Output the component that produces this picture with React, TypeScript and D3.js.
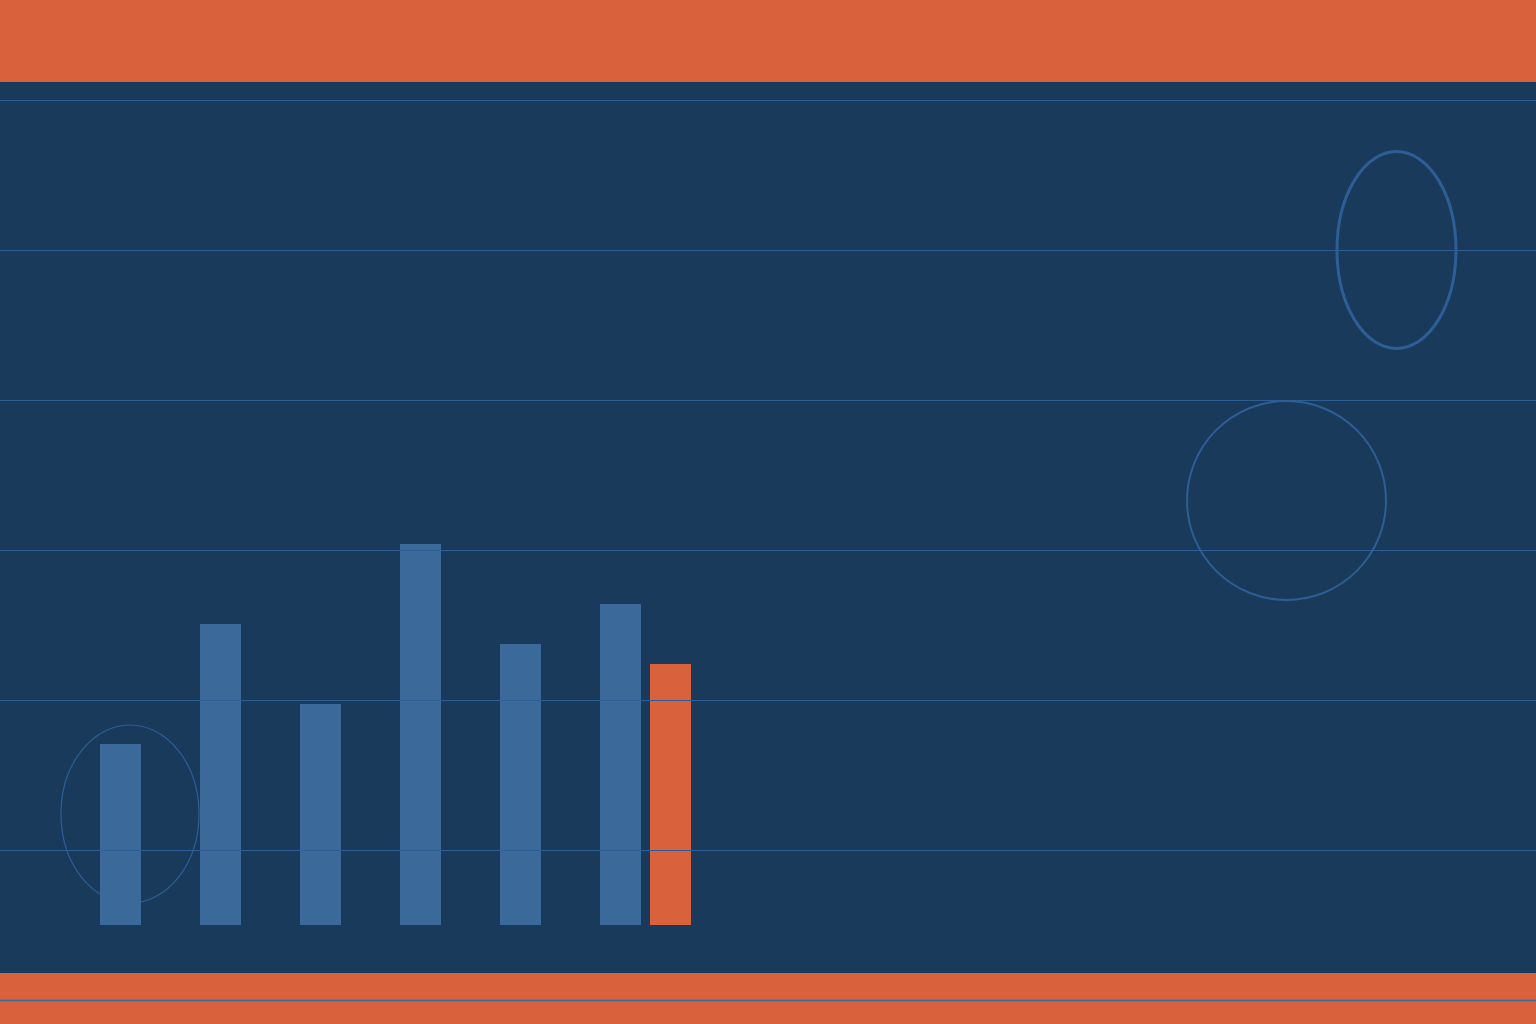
import * as d3 from 'd3';
import * as React from 'react';

const W = 1536;
const H = 1024;

// bar heights (chart units), blue series then the highlighted one
const categories = ['A', 'B', 'C', 'D', 'E', 'F'];
const blueValues = [181, 301, 221, 381, 281, 321];
const highlightValue = 261;
const gridValues = [75, 225, 375, 525, 675, 825];

const BG = '#1A3A5C';
const ORANGE = '#D9623D';
const BAR = '#3B6A9A';
const GRID = '#2D5E95';

export default function App() {
  const y = d3.scaleLinear().domain([0, 925]).range([925, 0]);
  const x = d3.scaleLinear().domain([0, categories.length]).range([100, 700]);
  const barW = 41;

  return (
    <svg
      width={W}
      height={H}
      viewBox={`0 0 ${W} ${H}`}
      style={{ position: 'fixed', top: 0, left: 0, display: 'block' }}
    >
      <rect x={0} y={0} width={W} height={H} fill={BG} />
      <rect x={0} y={0} width={W} height={82} fill={ORANGE} />
      <rect x={0} y={973} width={W} height={H - 973} fill={ORANGE} />
      <line x1={0} x2={W} y1={1000.5} y2={1000.5} stroke={BAR} strokeWidth={1.5} />

      {/* decorative outlines */}
      <ellipse cx={130} cy={814} rx={69} ry={89} fill="none" stroke={GRID} strokeWidth={1.2} />
      <ellipse cx={1396.5} cy={250} rx={59.5} ry={98.5} fill="none" stroke={GRID} strokeWidth={3} />
      <circle cx={1286.5} cy={500.5} r={99.5} fill="none" stroke={GRID} strokeWidth={2} />

      {blueValues.map((v, i) => (
        <rect
          key={categories[i]}
          x={x(i)}
          y={y(v)}
          width={barW}
          height={y(0) - y(v)}
          fill={BAR}
        />
      ))}
      <rect
        x={x(categories.length - 0.5)}
        y={y(highlightValue)}
        width={barW}
        height={y(0) - y(highlightValue)}
        fill={ORANGE}
      />

      {gridValues.map(g => (
        <line
          key={g}
          x1={0}
          x2={W}
          y1={Math.round(y(g)) + 0.5}
          y2={Math.round(y(g)) + 0.5}
          stroke={GRID}
          strokeWidth={1}
        />
      ))}
    </svg>
  );
}
